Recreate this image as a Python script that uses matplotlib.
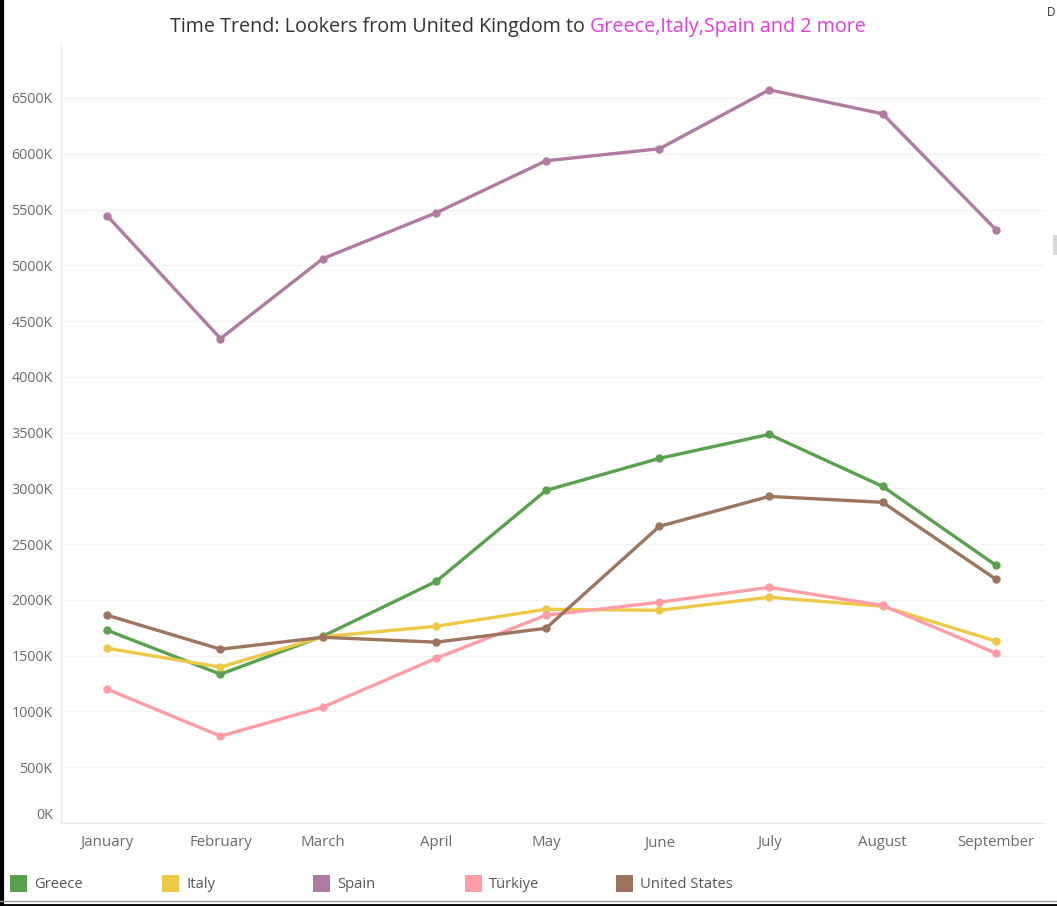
import matplotlib
matplotlib.use("Agg")
import matplotlib.pyplot as plt
import pandas as pd
from matplotlib.patches import Rectangle
from matplotlib.lines import Line2D
from matplotlib.ticker import FuncFormatter

# Monthly lookers from the United Kingdom, by destination (values in K)
months = ["January", "February", "March", "April", "May", "June", "July", "August", "September"]
month_starts = pd.date_range("2023-01-01", periods=len(months), freq="MS")
greece = [1728, 1334, 1675, 2167, 2982, 3269, 3484, 3018, 2310]
italy = [1567, 1397, 1670, 1764, 1916, 1907, 2024, 1943, 1630]
spain = [5445, 4343, 5060, 5471, 5937, 6045, 6573, 6358, 5319]
turkiye = [1200, 779, 1039, 1478, 1863, 1979, 2113, 1950, 1522]
united_states = [1863, 1558, 1665, 1621, 1746, 2660, 2928, 2875, 2185]

series_names = ["Greece", "Italy", "Spain", "Türkiye", "United States"]
series_values = [greece, italy, spain, turkiye, united_states]
series_colors = ["#59a14f", "#edc948", "#b07aa1", "#ff9da7", "#9c755f"]

plt.rcParams["font.family"] = ["Open Sans", "DejaVu Sans"]

W, H = 1057, 906
fig = plt.figure(figsize=(W / 100, H / 100), dpi=100)
fig.patch.set_facecolor("white")

ax = fig.add_axes([61 / W, 1 - 823 / H, 984 / W, 778 / H])
draw_order = [1, 3, 4, 0, 2]
for i in draw_order:
    ax.plot(month_starts, [v * 1000 for v in series_values[i]], color=series_colors[i],
            lw=2.4, marker="o", ms=5, solid_capstyle="round", zorder=3 + i * 0.1)

ax.set_xlim(month_starts[0] - pd.Timedelta(days=12.6),
            month_starts[-1] + pd.Timedelta(days=13.4))
ax.set_ylim(0, 6975000)
ax.set_yticks([v * 500000 for v in range(14)])
ax.yaxis.set_major_formatter(FuncFormatter(lambda v, p: f"{int(round(v / 1000))}K"))
ax.set_xticks(month_starts)
ax.set_xticklabels(months)

ax.grid(axis="y", color="#f2f2f2", lw=1)
ax.set_axisbelow(True)
for side in ["top", "right"]:
    ax.spines[side].set_visible(False)
ax.spines["left"].set_color("#e8e8e8")
ax.spines["bottom"].set_color("#e8e8e8")
ax.tick_params(axis="both", length=0, labelcolor="#6a6a6a")
ax.tick_params(axis="y", pad=6, labelsize=10.3)
ax.tick_params(axis="x", pad=9, labelsize=10.8)
ylabels = ax.get_yticklabels()
ylabels[0].set_va("bottom")

# Title in two colours
fig.canvas.draw()
renderer = fig.canvas.get_renderer()
t1 = fig.text(170 / W, 1 - 27 / H, "Time Trend: Lookers from United Kingdom to ",
              fontsize=14.2, color="#333333", va="center", ha="left")
bb = t1.get_window_extent(renderer=renderer)
fig.text(bb.x1 / W, 1 - 27 / H, "Greece,Italy,Spain and 2 more",
         fontsize=14.2, color="#e040e0", va="center", ha="left")

# Legend row
leg_x = [10, 162, 313, 465, 616]
for xi, name, col in zip(leg_x, series_names, series_colors):
    fig.add_artist(Rectangle((xi / W, 1 - 892 / H), 17 / W, 17 / H,
                             transform=fig.transFigure, facecolor=col, edgecolor="none"))
    fig.text((xi + 24) / W, 1 - 884 / H, name, fontsize=10.6, color="#555555",
             va="center", ha="left")

# Frame edges
fig.add_artist(Line2D([1.5 / W, 1.5 / W], [0, 1], transform=fig.transFigure,
                      color="black", lw=3))
fig.add_artist(Line2D([0, 1], [1 - 901 / H, 1 - 901 / H], transform=fig.transFigure,
                      color="#9a9a9a", lw=1))
fig.add_artist(Line2D([0, 1], [1 - 904.5 / H, 1 - 904.5 / H], transform=fig.transFigure,
                      color="black", lw=2))
fig.text(1047 / W, 1 - 12 / H, "D", fontsize=8.5, color="#333333", va="center", ha="left")
fig.add_artist(Rectangle((1053 / W, 1 - 255 / H), 4 / W, 20 / H,
                         transform=fig.transFigure, facecolor="#d8d8d8", edgecolor="none"))

fig.savefig("out.png", dpi=100, facecolor="white")
